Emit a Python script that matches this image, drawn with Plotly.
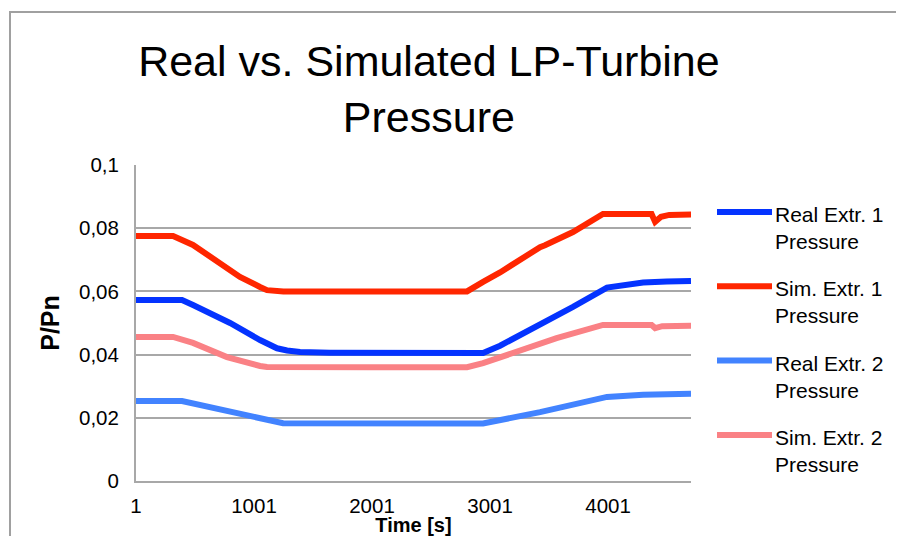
import plotly.graph_objects as go

# ----------------------------------------------------
# Data
# ----------------------------------------------------
t_real1 = [1, 391, 484, 798, 1052, 1196, 1281, 1391, 1645, 2500, 2942, 3086,
           3425, 3704, 3992, 4150, 4298, 4500, 4704]
p_real1 = [0.0573, 0.0573, 0.0557, 0.0500, 0.0446, 0.0420, 0.0413, 0.0408, 0.0406,
           0.0405, 0.0405, 0.0428, 0.0494, 0.0551, 0.0612, 0.0620, 0.0628, 0.0631, 0.0633]

t_sim1 = [1, 315, 484, 687, 882, 1052, 1111, 1250, 2001, 2806, 2942, 3086, 3425,
          3467, 3704, 3958, 4370, 4400, 4450, 4520, 4704]
p_sim1 = [0.0775, 0.0775, 0.0747, 0.0693, 0.0646, 0.0614, 0.0604, 0.0600, 0.0601,
          0.0600, 0.0630, 0.0660, 0.0740, 0.0746, 0.0788, 0.0845, 0.0845, 0.0820,
          0.0836, 0.0842, 0.0843]

t_real2 = [1, 391, 1247, 2001, 2700, 2942, 3425, 3992, 4298, 4704]
p_real2 = [0.0253, 0.0253, 0.0183, 0.0182, 0.0181, 0.0182, 0.0218, 0.0266, 0.0273, 0.0276]

t_sim2 = [1, 315, 484, 772, 1052, 1111, 2001, 2806, 2942, 3425, 3565, 3958, 4370,
          4400, 4460, 4704]
p_sim2 = [0.0456, 0.0456, 0.0437, 0.0392, 0.0364, 0.0361, 0.0360, 0.0360, 0.0373,
          0.0437, 0.0452, 0.0494, 0.0494, 0.0484, 0.0490, 0.0491]

series_names = ["Real Extr. 1<br>Pressure", "Sim. Extr. 1<br>Pressure",
                "Real Extr. 2<br>Pressure", "Sim. Extr. 2<br>Pressure"]
series_colors = ["#0433FF", "#FF2600", "#4283FF", "#FA8185"]
series_x = [t_real1, t_sim1, t_real2, t_sim2]
series_y = [p_real1, p_sim1, p_real2, p_sim2]

x_ticks = [1, 1001, 2001, 3001, 4001]
y_ticks = [0, 0.02, 0.04, 0.06, 0.08, 0.1]

FONT = "Liberation Sans, Arial, sans-serif"
GRID = "#a8a8a8"

# ----------------------------------------------------
# Plotting
# ----------------------------------------------------
fig = go.Figure()

for name, color, xs, ys in zip(series_names, series_colors, series_x, series_y):
    fig.add_trace(go.Scatter(
        x=xs, y=ys, mode="lines", name=name,
        line=dict(color=color, width=6),
        showlegend=False,
    ))

# hand-made legend on the right (long line swatches like the original)
shapes = []
annotations = []
for i, (name, color) in enumerate(zip(series_names, series_colors)):
    y_px = -47 - 74.3 * i
    shapes.append(dict(
        type="line", xref="paper", yref="paper",
        xsizemode="pixel", ysizemode="pixel", xanchor=1, yanchor=1,
        x0=26, x1=81, y0=y_px, y1=y_px,
        line=dict(color=color, width=6),
    ))
    annotations.append(dict(
        text=name, xref="paper", yref="paper", x=1, y=1,
        xanchor="left", yanchor="top", xshift=82, yshift=y_px + 11,
        showarrow=False, align="left",
        font=dict(family=FONT, size=21, color="black"),
    ))

# outer chart frame (top and left edges visible)
shapes.append(dict(type="line", xref="paper", yref="paper",
                   xsizemode="pixel", ysizemode="pixel", xanchor=0, yanchor=0,
                   x0=-126, x1=-126, y0=-80, y1=469,
                   line=dict(color="#a0a0a0", width=2)))
shapes.append(dict(type="line", xref="paper", yref="paper",
                   xsizemode="pixel", ysizemode="pixel", xanchor=0, yanchor=0,
                   x0=-127, x1=800, y0=469, y1=469,
                   line=dict(color="#a0a0a0", width=2)))

fig.update_layout(
    template="none",
    width=888, height=528,
    # page body adds 8px, so the plot box is shifted up/left by 8px here
    margin=dict(l=128, r=205, t=157, b=55),
    paper_bgcolor="white", plot_bgcolor="white",
    separators=",.",
    showlegend=False,
    font=dict(family=FONT, color="black"),
    title=dict(
        text="Real vs. Simulated LP-Turbine<br>Pressure",
        x=0.474, xanchor="center", xref="container",
        y=1 - 68 / 528, yanchor="top", yref="container",
        font=dict(family=FONT, size=43, color="black"),
    ),
    xaxis=dict(
        range=[1, 4704], tickvals=x_ticks, ticktext=[str(v) for v in x_ticks],
        showgrid=False, zeroline=False, automargin=False,
        showline=True, linecolor=GRID, linewidth=2,
        ticks="", ticklabelstandoff=5,
        tickfont=dict(family=FONT, size=20.5),
        title=dict(text="<b>Time [s]</b>", standoff=0,
                   font=dict(family=FONT, size=20)),
    ),
    yaxis=dict(
        range=[0, 0.1], tickvals=y_ticks,
        showgrid=True, gridcolor=GRID, gridwidth=2, zeroline=False,
        automargin=False,
        showline=True, linecolor=GRID, linewidth=2,
        ticks="", ticklabelstandoff=11,
        tickfont=dict(family=FONT, size=20.5),
        title=dict(text="<b>P/Pn</b>", standoff=12,
                   font=dict(family=FONT, size=25)),
    ),
    shapes=shapes,
    annotations=annotations,
)

fig.write_html("out.html")
